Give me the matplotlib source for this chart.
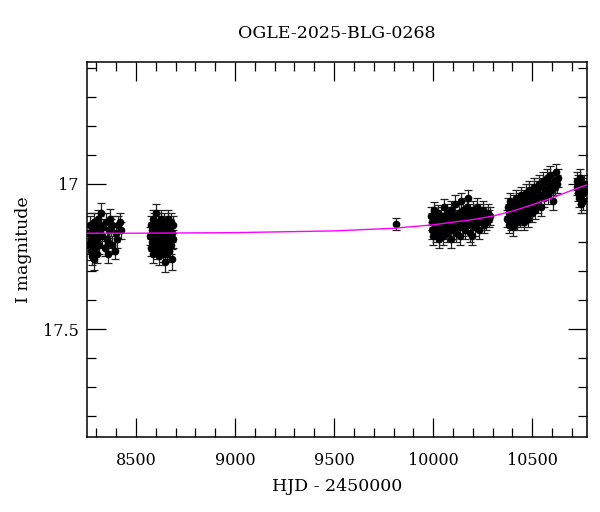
import numpy as np
import matplotlib
matplotlib.use('Agg')
import matplotlib.pyplot as plt
from matplotlib.ticker import MultipleLocator, FuncFormatter

# season 1
t1 = [8262, 8265, 8268, 8271, 8274, 8277, 8280, 8283, 8286, 8289, 8292, 8295, 8298, 8301,
      8305, 8309, 8313, 8317, 8321, 8326, 8330, 8334, 8345, 8349, 8353, 8357, 8361, 8365,
      8369, 8373, 8377, 8381, 8392, 8398, 8404, 8410, 8417, 8425]
m1 = [17.17, 17.21, 17.14, 17.19, 17.23, 17.16, 17.25, 17.20, 17.26, 17.13, 17.18, 17.22,
      17.15, 17.24, 17.19, 17.12, 17.21, 17.17, 17.14, 17.10, 17.18, 17.15, 17.22, 17.13,
      17.19, 17.24, 17.20, 17.16, 17.12, 17.15, 17.21, 17.14, 17.23, 17.17, 17.19, 17.14,
      17.13, 17.16]
e1 = [0.03, 0.03, 0.028, 0.03, 0.032, 0.028, 0.03, 0.03, 0.035, 0.028, 0.03, 0.03,
      0.028, 0.032, 0.03, 0.03, 0.03, 0.028, 0.03, 0.035, 0.03, 0.028, 0.03, 0.03,
      0.03, 0.032, 0.03, 0.028, 0.035, 0.03, 0.03, 0.03, 0.03, 0.03, 0.032, 0.03,
      0.03, 0.03]

# season 2
t2 = [8572, 8575, 8578, 8580, 8583, 8585, 8588, 8590, 8593, 8595, 8598, 8600, 8603, 8605,
      8608, 8610, 8613, 8615, 8618, 8620, 8623, 8625, 8628, 8630, 8633, 8635, 8638, 8640,
      8643, 8645, 8648, 8650, 8653, 8655, 8658, 8660, 8663, 8665, 8668, 8670, 8673, 8675,
      8678, 8680, 8683, 8686, 8688]
m2 = [17.18, 17.14, 17.22, 17.16, 17.20, 17.12, 17.24, 17.17, 17.13, 17.21, 17.15, 17.19,
      17.10, 17.23, 17.16, 17.13, 17.20, 17.25, 17.14, 17.18, 17.22, 17.12, 17.17, 17.21,
      17.15, 17.24, 17.19, 17.13, 17.16, 17.22, 17.27, 17.18, 17.14, 17.20, 17.24, 17.16,
      17.12, 17.19, 17.23, 17.15, 17.18, 17.13, 17.21, 17.26, 17.17, 17.14, 17.19]
e2 = [0.03, 0.03, 0.03, 0.028, 0.03, 0.03, 0.032, 0.03, 0.03, 0.03, 0.028, 0.03,
      0.03, 0.03, 0.03, 0.028, 0.03, 0.03, 0.03, 0.03, 0.03, 0.03, 0.028, 0.03,
      0.03, 0.03, 0.03, 0.03, 0.03, 0.03, 0.035, 0.03, 0.03, 0.03, 0.03, 0.03,
      0.03, 0.028, 0.03, 0.03, 0.03, 0.03, 0.03, 0.035, 0.03, 0.03, 0.03]

# single point
t3 = [9811]
m3 = [17.138]
e3 = [0.022]

# season 4
t4 = [9988, 9992, 9996, 10000, 10004, 10008, 10012, 10016, 10020, 10024, 10028, 10032,
      10036, 10040, 10044, 10048, 10052, 10056, 10060, 10064, 10068, 10072, 10076, 10080,
      10084, 10088, 10092, 10096, 10100, 10104, 10108, 10112, 10116, 10120, 10124, 10128,
      10132, 10136, 10140, 10144, 10148, 10152, 10156, 10160, 10164, 10168, 10172, 10176,
      10180, 10184, 10188, 10192, 10196, 10200, 10205, 10210, 10215, 10220, 10226, 10232,
      10238, 10244, 10250, 10256, 10262, 10268, 10274, 10280, 10287]
m4 = [17.11, 17.16, 17.13, 17.18, 17.09, 17.14, 17.17, 17.12, 17.15, 17.10, 17.19, 17.13,
      17.16, 17.11, 17.14, 17.18, 17.08, 17.13, 17.16, 17.12, 17.10, 17.17, 17.14, 17.11,
      17.15, 17.19, 17.09, 17.13, 17.16, 17.11, 17.07, 17.14, 17.17, 17.12, 17.15, 17.10,
      17.13, 17.18, 17.06, 17.12, 17.15, 17.09, 17.13, 17.16, 17.11, 17.08, 17.14, 17.05,
      17.12, 17.17, 17.10, 17.13, 17.18, 17.09, 17.12, 17.15, 17.11, 17.08, 17.13, 17.16,
      17.10, 17.12, 17.09, 17.14, 17.11, 17.13, 17.10, 17.12, 17.11]
e4 = [0.03, 0.03, 0.03, 0.03, 0.028, 0.03, 0.03, 0.03, 0.03, 0.028, 0.03, 0.03,
      0.03, 0.03, 0.03, 0.03, 0.028, 0.03, 0.03, 0.03, 0.03, 0.03, 0.03, 0.03,
      0.03, 0.03, 0.03, 0.03, 0.03, 0.03, 0.03, 0.03, 0.03, 0.03, 0.03, 0.03,
      0.03, 0.03, 0.03, 0.03, 0.03, 0.03, 0.03, 0.03, 0.03, 0.03, 0.03, 0.03,
      0.03, 0.03, 0.03, 0.03, 0.03, 0.03, 0.03, 0.03, 0.03, 0.03, 0.03, 0.03,
      0.03, 0.03, 0.03, 0.03, 0.03, 0.03, 0.03, 0.03, 0.03]

# season 5
t5 = [10372, 10376, 10380, 10384, 10388, 10392, 10396, 10400, 10404, 10408, 10412, 10416,
      10420, 10424, 10428, 10432, 10436, 10440, 10444, 10448, 10452, 10456, 10460, 10464,
      10468, 10472, 10476, 10480, 10484, 10488, 10492, 10496, 10500, 10505, 10510, 10515,
      10520, 10525, 10530, 10535, 10540, 10545, 10550, 10555, 10560, 10566, 10572, 10578,
      10584, 10590, 10596, 10602, 10608, 10614, 10620, 10626, 10632]
m5 = [17.12, 17.08, 17.14, 17.10, 17.06, 17.13, 17.09, 17.11, 17.15, 17.07, 17.12, 17.09,
      17.05, 17.13, 17.10, 17.06, 17.12, 17.08, 17.04, 17.11, 17.07, 17.13, 17.05, 17.09,
      17.03, 17.10, 17.06, 17.12, 17.02, 17.08, 17.05, 17.10, 17.03, 17.07, 17.01, 17.09,
      17.05, 17.02, 17.07, 17.00, 17.04, 17.08, 17.01, 16.99, 17.05, 17.02, 16.98, 17.04,
      17.00, 16.97, 17.02, 17.06, 16.99, 17.01, 16.96, 17.00, 16.98]
e5 = [0.03, 0.03, 0.03, 0.03, 0.03, 0.03, 0.03, 0.03, 0.03, 0.03, 0.03, 0.03,
      0.03, 0.03, 0.03, 0.03, 0.03, 0.03, 0.03, 0.03, 0.03, 0.03, 0.03, 0.03,
      0.03, 0.03, 0.03, 0.03, 0.03, 0.03, 0.03, 0.03, 0.03, 0.03, 0.03, 0.03,
      0.03, 0.03, 0.03, 0.03, 0.03, 0.03, 0.03, 0.03, 0.03, 0.03, 0.03, 0.03,
      0.03, 0.03, 0.03, 0.03, 0.03, 0.03, 0.03, 0.03, 0.03]

# season 6
t6 = [10724, 10727, 10730, 10733, 10736, 10739, 10742, 10745, 10748, 10751, 10754, 10757,
      10760, 10763]
m6 = [17.01, 16.99, 17.03, 17.00, 17.05, 17.02, 16.98, 17.04, 17.07, 17.01, 17.03, 17.06,
      17.00, 17.02]
e6 = [0.03, 0.03, 0.03, 0.03, 0.03, 0.03, 0.03, 0.03, 0.03, 0.03, 0.03, 0.03, 0.03, 0.03]

# model curve
t_model = [8253, 8500, 9000, 9500, 9800, 10000, 10200, 10300, 10400, 10500, 10600,
           10700, 10775]
m_model = [17.170, 17.170, 17.168, 17.162, 17.153, 17.141, 17.123, 17.111, 17.094,
           17.072, 17.048, 17.022, 17.004]

plt.rcParams['font.family'] = 'DejaVu Serif'

fig = plt.figure(figsize=(6, 5.12), dpi=100)
ax = fig.add_axes([0.145, 0.1465, 0.833, 0.7325])

for t, m, e in [(t1, m1, e1), (t2, m2, e2), (t3, m3, e3), (t4, m4, e4), (t5, m5, e5), (t6, m6, e6)]:
    ax.errorbar(t, m, yerr=e, fmt='o', ms=4.5, color='black', ecolor='#222222',
                elinewidth=0.9, capsize=3, capthick=0.9, zorder=2)

ax.plot(t_model, m_model, color='#ff00ff', lw=1.0, zorder=3)

ax.set_xlim(8253, 10775)
ax.set_ylim(17.872, 16.58)

ax.xaxis.set_major_locator(MultipleLocator(500))
ax.xaxis.set_minor_locator(MultipleLocator(100))
ax.yaxis.set_major_locator(MultipleLocator(0.5))
ax.yaxis.set_minor_locator(MultipleLocator(0.1))
ax.yaxis.set_major_formatter(FuncFormatter(lambda v, p: '%g' % v))

ax.tick_params(which='both', direction='in', top=True, right=True, width=0.9)
ax.tick_params(which='major', length=13.5, labelsize=11.5)
ax.tick_params(axis='x', which='major', pad=11)
ax.tick_params(axis='y', which='major', pad=6)
ax.tick_params(which='minor', length=6.5)
for s in ax.spines.values():
    s.set_linewidth(1.1)

ax.set_title('OGLE-2025-BLG-0268', fontsize=12.5, pad=17)
ax.set_xlabel('HJD - 2450000', fontsize=12.5, labelpad=6)
ax.set_ylabel('I magnitude', fontsize=12.5, labelpad=8)

fig.savefig('out.png', dpi=100)
